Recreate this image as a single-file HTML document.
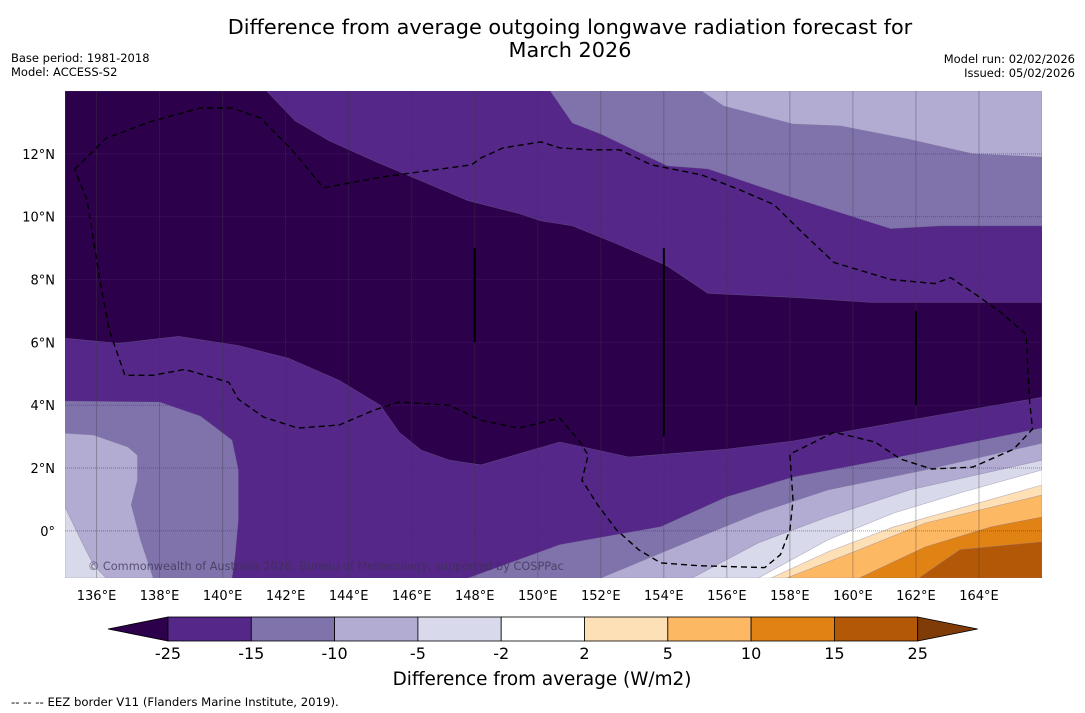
<!DOCTYPE html>
<html><head><meta charset="utf-8"><style>
html,body{margin:0;padding:0;background:#fff;}
svg{display:block;font-family:"DejaVu Sans","Liberation Sans",sans-serif;}
</style></head><body>
<svg id="chart" width="1085" height="713" viewBox="0 0 1085 713">
<text x="570" y="34" text-anchor="middle" font-size="20.8">Difference from average outgoing longwave radiation forecast for</text>
<text x="570" y="57" text-anchor="middle" font-size="20.8">March 2026</text>
<text x="11" y="62" font-size="11.5">Base period: 1981-2018</text>
<text x="11" y="76" font-size="11.5">Model: ACCESS-S2</text>
<text x="1075" y="63" font-size="11.5" text-anchor="end">Model run: 02/02/2026</text>
<text x="1075" y="77" font-size="11.5" text-anchor="end">Issued: 05/02/2026</text>
<defs><clipPath id="pc"><rect x="65" y="91" width="977" height="487"/></clipPath></defs>
<g id="plot" clip-path="url(#pc)"></g>
<g id="axes"></g>
<g id="cbar"></g>
<text x="542" y="685" text-anchor="middle" font-size="18.4">Difference from average (W/m2)</text>
<text x="11" y="706" font-size="11.7">--  --  -- EEZ border V11 (Flanders Marine Institute, 2019).</text>
</svg>
<script>
const lonTicks=[136,138,140,142,144,146,148,150,152,154,156,158,160,162,164];
const latTicks=[0,2,4,6,8,10,12];
const levels=[-25,-15,-10,-5,-2,2,5,10,15,25];
const colors=["#2d004b","#542788","#8073ac","#b2abd2","#d8daeb","#ffffff","#fee0b6","#fdb863","#e08214","#b35806","#7f3b08"];
const darkRegion=[[135,14],[141.4,14],[142.3,13.05],[143.4,12.41],[144.8,11.78],[146.3,11.14],[147.8,10.51],[149.4,10.1],[150.1,9.87],[151.1,9.71],[152.6,9.1],[154.1,8.44],[155.4,7.56],[158.3,7.42],[160.6,7.27],[166,7.27],[166,4.25],[162,3.56],[158.1,2.86],[156,2.6],[152.9,2.35],[150.7,2.83],[148.2,2.1],[147.2,2.25],[146.3,2.57],[145.6,3.14],[145,4.0],[143.7,4.79],[142.1,5.49],[140.5,5.9],[138.6,6.19],[136.7,5.97],[135,6.13]];
const topRightA=[[150.4,14],[151.1,12.98],[152,12.63],[154.1,11.62],[155.4,11.52],[157.9,10.67],[159.6,10.13],[161.2,9.62],[162.8,9.71],[166,9.71],[166,14]];
const topRightB=[[155.2,14],[155.9,13.52],[158.1,12.95],[159.6,12.89],[161.7,12.48],[163.8,12.0],[166,11.9],[166,14]];
const lowLeftA=[[135,4.13],[138,4.1],[139.3,3.65],[140.3,2.89],[140.5,1.94],[140.5,0.35],[140.4,-0.76],[140.3,-1.5],[135,-1.5]];
const lowLeftB=[[135,3.11],[135.9,3.05],[137,2.67],[137.3,2.41],[137.3,1.62],[137.1,0.83],[137.4,-0.29],[137.8,-1.5],[135,-1.5]];
const lowLeftC=[[135,0.76],[135.5,-0.29],[135.9,-1.08],[136.3,-1.5],[135,-1.5]];
const lowRight1=[[147.8,-1.5],[150.7,-0.44],[153.9,0.13],[156,1.08],[158.1,1.71],[161.3,2.32],[166,3.27],[166,-1.5]];
const lowRight2=[[152,-1.5],[154.9,-0.29],[157,0.57],[159.2,1.3],[162.3,1.94],[166,2.79],[166,-1.5]];
const lowRight3=[[154.9,-1.5],[157,-0.38],[159.2,0.44],[161.8,1.3],[166,2.25],[166,-1.5]];
const lowRight4=[[157,-1.5],[159.2,-0.29],[161.3,0.57],[163.4,1.21],[166,1.94],[166,-1.5]];
const lowRight5=[[157.4,-1.5],[159.2,-0.67],[161.3,0.13],[166,1.46],[166,-1.5]];
const lowRight6=[[157.9,-1.5],[160.2,-0.6],[162.3,0.25],[166,1.14],[166,-1.5]];
const lowRight7=[[160.2,-1.5],[162.3,-0.51],[164.4,0.13],[166,0.44],[166,-1.5]];
const lowRight8=[[162.1,-1.5],[163.4,-0.6],[166,-0.35],[166,-1.5]];
const regions=[[0,darkRegion],[2,topRightA],[3,topRightB],[2,lowLeftA],[3,lowLeftB],[4,lowLeftC],[2,lowRight1],[3,lowRight2],[4,lowRight3],[5,lowRight4],[6,lowRight5],[7,lowRight6],[8,lowRight7],[9,lowRight8]];
const eezBorder=[[135.3,11.5],[136.3,12.49],[137.7,13.02],[139.3,13.46],[140.3,13.46],[141.2,13.14],[142.2,12.13],[143.2,10.92],[145.1,11.27],[147.9,11.65],[148.2,11.87],[148.9,12.19],[150.1,12.38],[150.7,12.19],[151.7,12.13],[152.6,12.13],[153.6,11.65],[155.2,11.33],[156.4,10.86],[157.5,10.38],[158.3,9.59],[159.4,8.54],[161.2,8.0],[162.6,7.87],[163.1,8.06],[163.9,7.52],[164.7,6.95],[165.5,6.25],[165.6,4.19],[165.7,3.24],[165.1,2.6],[163.8,2.03],[162.5,1.97],[161.5,2.29],[160.7,2.83],[159.4,3.14],[158,2.44],[158.1,0.98],[158,0.03],[157.7,-0.76],[157.2,-1.17],[155.1,-1.11],[153.9,-1.02],[153.2,-0.6],[152.5,0.03],[151.9,0.83],[151.4,1.62],[151.6,2.41],[151.3,2.89],[150.7,3.59],[149.4,3.27],[148.2,3.52],[147.2,4.0],[145.6,4.1],[144.8,3.84],[143.7,3.37],[142.4,3.27],[141.3,3.62],[140.5,4.19],[140.2,4.73],[138.8,5.14],[137.8,4.95],[136.9,4.95],[136.4,6.41],[136.1,8.0],[135.9,9.27],[135.7,10.54],[135.3,11.5]];
const blackBars=[[148,9.0,6.0],[154,9.0,3.0],[162,7.0,4.0]];

const X0=65,X1=1042,Y0=91,Y1=578,LON0=135,LON1=166,LAT0=-1.5,LAT1=14;
const xs=lon=>X0+(lon-LON0)/(LON1-LON0)*(X1-X0);
const ys=lat=>Y1-(lat-LAT0)/(LAT1-LAT0)*(Y1-Y0);
const NS="http://www.w3.org/2000/svg";
function mk(tag,attrs,parent){const e=document.createElementNS(NS,tag);for(const k in attrs)e.setAttribute(k,attrs[k]);parent.appendChild(e);return e;}
const plot=document.getElementById('plot');
const bg=mk('rect',{x:X0,y:Y0,width:X1-X0,height:Y1-Y0,fill:colors[1]},plot);


regions.forEach((r,i)=>{
  const p=mk('polygon',{points:r[1].map(q=>xs(q[0]).toFixed(1)+','+ys(q[1]).toFixed(1)).join(' '),fill:colors[r[0]],stroke:'rgba(120,110,150,0.5)','stroke-width':0.6},plot);
  
  
});
lonTicks.forEach(l=>{const g=mk('line',{x1:xs(l),x2:xs(l),y1:Y0,y2:Y1,stroke:'rgba(60,60,60,0.35)','stroke-width':1},plot);
  
  });
latTicks.forEach(l=>{const g=mk('line',{x1:X0,x2:X1,y1:ys(l),y2:ys(l),stroke:'rgba(60,60,60,0.5)','stroke-width':1,'stroke-dasharray':'1,1'},plot);
  
  });
blackBars.forEach(b=>{const g=mk('line',{x1:xs(b[0]),x2:xs(b[0]),y1:ys(b[1]),y2:ys(b[2]),stroke:'#000','stroke-width':2},plot);
  
  });
const eez=mk('polyline',{points:eezBorder.map(q=>xs(q[0]).toFixed(1)+','+ys(q[1]).toFixed(1)).join(' '),fill:'none',stroke:'#000','stroke-width':1.4,'stroke-dasharray':'6,4'},plot);


const cr=mk('text',{x:88,y:570,'font-size':11.3,fill:'rgba(60,50,80,0.75)'},plot);
cr.textContent='© Commonwealth of Australia 2026, Bureau of Meteorology, supported by COSPPac';


const axes=document.getElementById('axes');
lonTicks.forEach(l=>{const t=mk('text',{x:xs(l),y:600,'font-size':13,'text-anchor':'middle'},axes);t.textContent=l+'°E';
  
  });
latTicks.forEach(l=>{const t=mk('text',{x:55,y:ys(l)+5,'font-size':13,'text-anchor':'end'},axes);t.textContent=l+'°'+(l===0?'':'N');
  
  });
const cb=document.getElementById('cbar');
const CB0=168,CBW=83.3,CY=617,CH=24;
const lt=mk('polygon',{points:`108,${CY+CH/2} ${CB0},${CY} ${CB0},${CY+CH}`,fill:colors[0],stroke:'#000','stroke-width':0.8},cb);


for(let i=0;i<levels.length-1;i++){
  const r=mk('rect',{x:CB0+i*CBW,y:CY,width:CBW,height:CH,fill:colors[i+1],stroke:'#000','stroke-width':0.8},cb);
  
  
}
const xe=CB0+(levels.length-1)*CBW;
const rt=mk('polygon',{points:`${xe},${CY} ${xe+60},${CY+CH/2} ${xe},${CY+CH}`,fill:colors[10],stroke:'#000','stroke-width':0.8},cb);


levels.forEach((v,i)=>{const t=mk('text',{x:CB0+i*CBW,y:659,'font-size':16,'text-anchor':'middle'},cb);t.textContent=v;
  
  });
</script>
</body></html>
